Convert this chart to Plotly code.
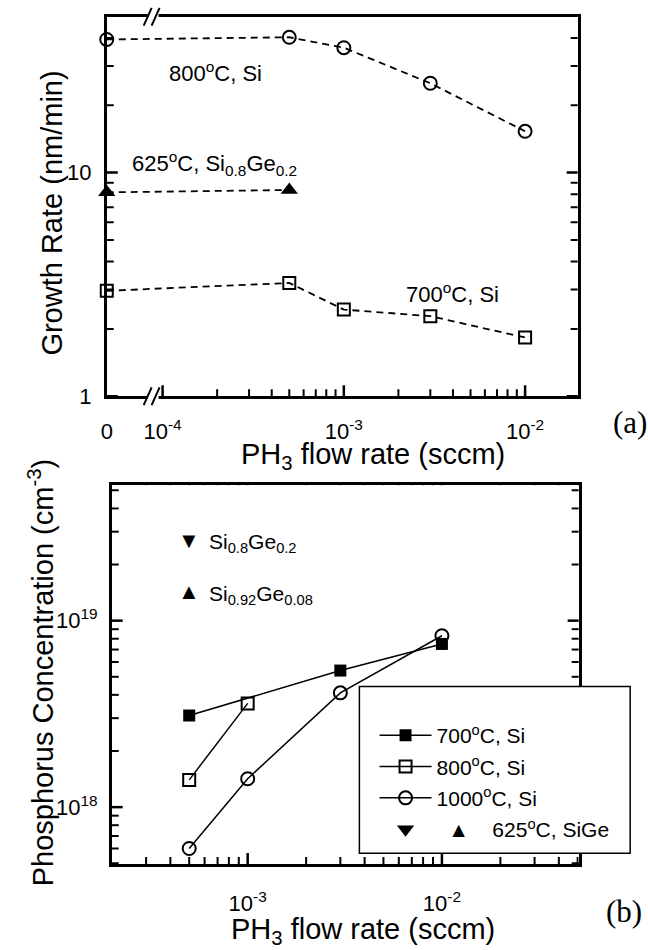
import plotly.graph_objects as go

W, H = 648, 950
FONT = "Liberation Sans, Arial, Helvetica, sans-serif"
SERIF = "Liberation Serif, Times New Roman, serif"

# ---------------- Data: panel (a) growth rate ----------------
flow_a = [0, 5e-4, 1e-3, 3e-3, 1e-2]           # PH3 flow (sccm); 0 drawn on the broken axis
rate_800_si = [39.4, 40.3, 36.2, 25.1, 15.3]    # nm/min
rate_700_si = [2.96, 3.21, 2.44, 2.28, 1.83]
flow_a_sige = [0, 5e-4]
rate_625_sige = [8.16, 8.36]

# ---------------- Data: panel (b) phosphorus concentration ----------------
flow_700_b = [5e-4, 3e-3, 1e-2]
conc_700_si = [3.1e18, 5.4e18, 7.5e18]
flow_800_b = [5e-4, 1e-3]
conc_800_si = [1.40e18, 3.6e18]
flow_1000_b = [5e-4, 1e-3, 3e-3, 1e-2]
conc_1000_si = [6.0e17, 1.42e18, 4.1e18, 8.3e18]

# tick labels
xtick_vals_a = ["zero", 1e-4, 1e-3, 1e-2]
xtick_text_a = ["0", "10<sup>-4</sup>", "10<sup>-3</sup>", "10<sup>-2</sup>"]
ytick_vals_a = [1, 10]
ytick_text_a = ["1", "10"]
xtick_vals_b = [1e-3, 1e-2]
xtick_text_b = ["10<sup>-3</sup>", "10<sup>-2</sup>"]
ytick_vals_b = [1e18, 1e19]
ytick_text_b = ["10<sup>18</sup>", "10<sup>19</sup>"]

# position used to draw "0" on the broken logarithmic axis of panel (a)
X_ZERO = 10 ** -4.308


def zmap(xs):
    return [X_ZERO if v == 0 else v for v in xs]


def px(x):
    return x / W


def py(y):
    return 1 - y / H


fig = go.Figure()

dash = "7px,5px"
# panel (a)
fig.add_trace(go.Scatter(x=zmap(flow_a), y=rate_800_si, mode="lines+markers",
                         line=dict(color="black", width=1.8, dash=dash),
                         marker=dict(symbol="circle-open", size=13, color="black", line=dict(width=2)),
                         cliponaxis=False, showlegend=False, xaxis="x", yaxis="y"))
fig.add_trace(go.Scatter(x=zmap(flow_a_sige), y=rate_625_sige, mode="lines+markers",
                         line=dict(color="black", width=1.8, dash=dash),
                         marker=dict(symbol="triangle-up", size=15, color="black"),
                         cliponaxis=False, showlegend=False, xaxis="x", yaxis="y"))
fig.add_trace(go.Scatter(x=zmap(flow_a), y=rate_700_si, mode="lines+markers",
                         line=dict(color="black", width=1.8, dash=dash),
                         marker=dict(symbol="square-open", size=12, color="black", line=dict(width=2)),
                         cliponaxis=False, showlegend=False, xaxis="x", yaxis="y"))

# panel (b)
fig.add_trace(go.Scatter(x=flow_700_b, y=conc_700_si, mode="lines+markers",
                         name="700<sup>o</sup>C, Si", legendgroup="g1",
                         line=dict(color="black", width=1.5),
                         marker=dict(symbol="square", size=12, color="black"),
                         cliponaxis=False, xaxis="x2", yaxis="y2"))
fig.add_trace(go.Scatter(x=flow_800_b, y=conc_800_si, mode="lines+markers",
                         name="800<sup>o</sup>C, Si", legendgroup="g2",
                         line=dict(color="black", width=1.5),
                         marker=dict(symbol="square-open", size=12, color="black", line=dict(width=2)),
                         cliponaxis=False, xaxis="x2", yaxis="y2"))
fig.add_trace(go.Scatter(x=flow_1000_b, y=conc_1000_si, mode="lines+markers",
                         name="1000<sup>o</sup>C, Si", legendgroup="g3",
                         line=dict(color="black", width=1.5),
                         marker=dict(symbol="circle-open", size=13, color="black", line=dict(width=2)),
                         cliponaxis=False, xaxis="x2", yaxis="y2"))
fig.add_trace(go.Scatter(x=[None], y=[None], mode="markers",
                         name="\u00a0\u00a0\u25b2\u00a0\u00a0\u00a0\u00a0625<sup>o</sup>C, SiGe",
                         legendgroup="g4",
                         marker=dict(symbol="triangle-down", size=15, color="black"),
                         xaxis="x2", yaxis="y2"))

# tick positions (major ticks carry labels; minor ticks are unlabeled)
major_x_a = [1e-4, 1e-3, 1e-2]
minor_x_a = [m * 10.0 ** e for e in (-4, -3) for m in range(2, 10)]
major_y_a = [1, 10]
minor_y_a = [m for m in range(2, 10)] + [20, 30, 40]
major_x_b = [1e-3, 1e-2]
minor_x_b = [m * 1e-4 for m in range(3, 10)] + [m * 1e-3 for m in range(2, 10)] + [m * 1e-2 for m in range(2, 6)]
major_y_b = [1e18, 1e19]
minor_y_b = [m * 1e17 for m in range(5, 10)] + [m * 1e18 for m in range(2, 10)] + [m * 1e19 for m in range(2, 6)]

base = dict(showline=True, linecolor="black", linewidth=2.5, mirror=True,
            ticks="", showgrid=False, zeroline=False,
            tickfont=dict(family=FONT, size=22, color="black"))

RX_A, RY_A = [-4.308, -1.71], [0, 1.697]
RX_B, RY_B = [-3.70, -1.296], [17.695, 19.726]

fig.update_layout(
    width=W, height=H, autosize=False,
    margin=dict(l=0, r=0, t=0, b=0),
    paper_bgcolor="white", plot_bgcolor="white",
    font=dict(family=FONT, color="black"),
    xaxis=dict(type="log", domain=[px(101.7), px(577)], range=RX_A,
               tickmode="array",
               tickvals=[X_ZERO if v == "zero" else v for v in xtick_vals_a],
               ticktext=xtick_text_a, ticklabelstandoff=14, anchor="y", **base),
    yaxis=dict(type="log", domain=[py(401.7), py(17)], range=RY_A,
               tickmode="array", tickvals=ytick_vals_a, ticktext=ytick_text_a,
               ticklabelstandoff=8, anchor="x", **base),
    xaxis2=dict(type="log", domain=[px(106.7), px(578)], range=RX_B,
                tickmode="array", tickvals=xtick_vals_b, ticktext=xtick_text_b,
                ticklabelstandoff=18, anchor="y2", **base),
    yaxis2=dict(type="log", domain=[py(876), py(492)], range=RY_B,
                tickmode="array", tickvals=ytick_vals_b, ticktext=ytick_text_b,
                ticklabelstandoff=7, anchor="x2", **base),
    legend=dict(x=px(372), y=py(725), xanchor="left", yanchor="top",
                bgcolor="rgba(0,0,0,0)", borderwidth=0,
                font=dict(family=FONT, size=21, color="black"),
                itemwidth=52, tracegroupgap=1, traceorder="grouped"),
)

shapes = []


def xticks(xref, yref, vals, edges, length, width):
    # vertical tick marks anchored at the bottom and top edges of the y range;
    # drawn symmetric about the edge and clipped to the plot area by the subplot
    out = []
    for v in vals:
        for edge in edges:
            out.append(dict(type="line", xref=xref, yref=yref, x0=v, x1=v,
                            ysizemode="pixel", yanchor=edge, y0=-length, y1=length,
                            line=dict(color="black", width=width), layer="above"))
    return out


def yticks(xref, yref, vals, length, width):
    out = []
    for v in vals:
        for anchor, sign in ((0, 1), (1, -1)):
            out.append(dict(type="line", xref=xref, yref=yref, y0=v, y1=v,
                            xsizemode="pixel", xanchor=anchor, x0=0, x1=sign * length,
                            line=dict(color="black", width=width), layer="above"))
    return out


edges_a = [10 ** RY_A[0], 10 ** RY_A[1]]
edges_b = [10 ** RY_B[0], 10 ** RY_B[1]]
MAJ_L, MAJ_W, MIN_L, MIN_W = 11, 2.5, 7, 2
shapes += xticks("x", "y", major_x_a, edges_a, MAJ_L, MAJ_W) + xticks("x", "y", minor_x_a, edges_a, MIN_L, MIN_W)
shapes += yticks("x domain", "y", major_y_a, MAJ_L, MAJ_W) + yticks("x domain", "y", minor_y_a, MIN_L, MIN_W)
shapes += xticks("x2", "y2", major_x_b, edges_b, MAJ_L, MAJ_W) + xticks("x2", "y2", minor_x_b, edges_b, MIN_L, MIN_W)
shapes += yticks("x2 domain", "y2", major_y_b, MAJ_L, MAJ_W) + yticks("x2 domain", "y2", minor_y_b, MIN_L, MIN_W)

# axis break marks on panel (a): bottom and top edges
for yb in (401.7, 17):
    shapes.append(dict(type="rect", xref="paper", yref="paper",
                       x0=px(143), x1=px(154), y0=py(yb + 4), y1=py(yb - 4),
                       fillcolor="white", line=dict(width=0), layer="above"))
    for x0 in (139, 147):
        shapes.append(dict(type="line", xref="paper", yref="paper",
                           x0=px(x0), y0=py(yb + 9), x1=px(x0 + 8), y1=py(yb - 9),
                           line=dict(color="black", width=2), layer="above"))
# legend frame of panel (b)
shapes.append(dict(type="rect", xref="paper", yref="paper",
                   x0=px(356.7), x1=px(630), y0=py(865), y1=py(696),
                   fillcolor="white", line=dict(color="black", width=1.5), layer="above"))
fig.update_layout(shapes=shapes)


def ann(text, x, y, size=22, xanchor="center", yanchor="middle", angle=0, family=FONT):
    return dict(text=text, x=px(x), y=py(y), xref="paper", yref="paper",
                xanchor=xanchor, yanchor=yanchor, showarrow=False, textangle=angle,
                font=dict(family=family, size=size, color="black"))


annotations = [
    ann("800<sup>o</sup>C, Si", 162, 73, xanchor="left"),
    ann("625<sup>o</sup>C, Si<sub>0.8</sub>Ge<sub>0.2</sub>", 125, 166, xanchor="left"),
    ann("700<sup>o</sup>C, Si", 402, 297, xanchor="left"),
    ann("Growth Rate (nm/min)", 46, 216, size=29, angle=-90),
    ann("PH<sub>3</sub> flow rate (sccm)", 370, 462, size=29),
    ann("(a)", 630, 428, size=31, family=SERIF),
    ann("\u25bc", 185, 548, size=22),
    ann("Si<sub>0.8</sub>Ge<sub>0.2</sub>", 203, 551, size=21, xanchor="left"),
    ann("\u25b2", 185, 600, size=22),
    ann("Si<sub>0.92</sub>Ge<sub>0.08</sub>", 203, 603, size=21, xanchor="left"),
    ann("Phosphorus Concentration (cm<sup>-3</sup>)", 35, 682, size=29, angle=-90),
    ann("PH<sub>3</sub> flow rate (sccm)", 360, 944, size=29),
    ann("(b)", 624, 924, size=31, family=SERIF),
]
fig.update_layout(annotations=annotations)

fig.write_html("out.html")
